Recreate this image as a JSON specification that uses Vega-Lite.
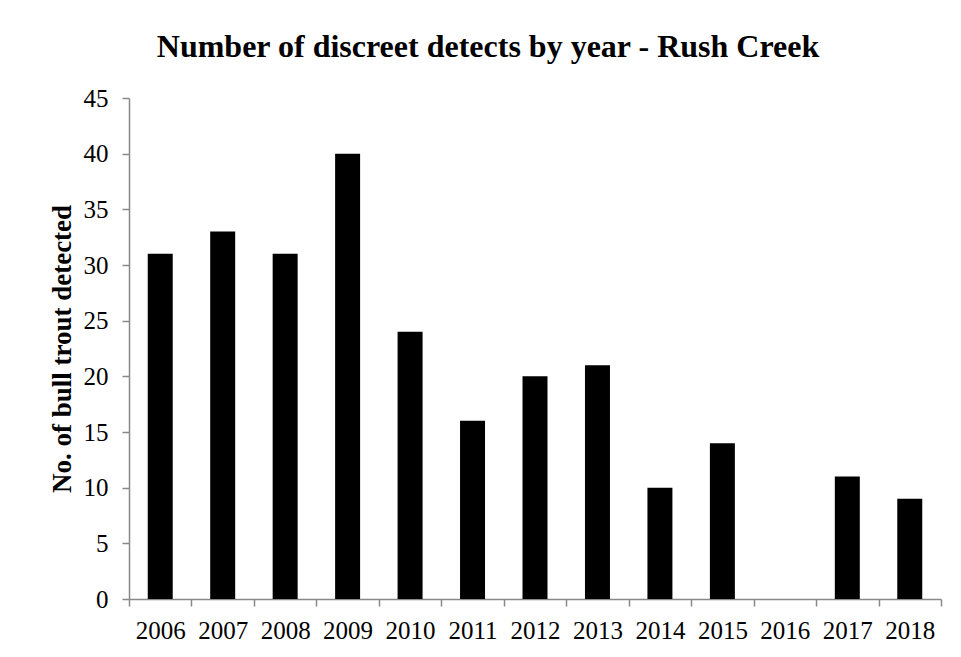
{
  "$schema": "https://vega.github.io/schema/vega-lite/v6.json",
  "width": 812,
  "height": 501,
  "autosize": {"type": "none"},
  "padding": {"left": 129, "top": 98, "right": 20, "bottom": 58},
  "background": "white",
  "title": {
    "text": "Number of discreet detects by year - Rush Creek",
    "font": "Liberation Serif",
    "fontSize": 32,
    "fontWeight": "bold",
    "color": "black",
    "anchor": "middle",
    "frame": "group",
    "dx": -47,
    "offset": 22
  },
  "data": {
    "values": [
      {"year": "2006", "count": 31},
      {"year": "2007", "count": 33},
      {"year": "2008", "count": 31},
      {"year": "2009", "count": 40},
      {"year": "2010", "count": 24},
      {"year": "2011", "count": 16},
      {"year": "2012", "count": 20},
      {"year": "2013", "count": 21},
      {"year": "2014", "count": 10},
      {"year": "2015", "count": 14},
      {"year": "2016", "count": 0},
      {"year": "2017", "count": 11},
      {"year": "2018", "count": 9}
    ]
  },
  "mark": {"type": "bar", "color": "black", "width": {"band": 0.4}},
  "encoding": {
    "x": {
      "field": "year",
      "type": "ordinal",
      "scale": {"paddingInner": 0, "paddingOuter": 0},
      "axis": {
        "title": null,
        "labelAngle": 0,
        "labelFont": "Liberation Serif",
        "labelFontSize": 25,
        "labelColor": "black",
        "labelPadding": 12,
        "tickBand": "extent",
        "tickSize": 7,
        "tickColor": "#888888",
        "tickWidth": 1.5,
        "domainColor": "#888888",
        "domainWidth": 1.5
      }
    },
    "y": {
      "field": "count",
      "type": "quantitative",
      "scale": {"domain": [0, 45], "nice": false},
      "axis": {
        "title": "No. of bull trout detected",
        "titleFont": "Liberation Serif",
        "titleFontSize": 27,
        "titleFontWeight": "bold",
        "titleColor": "black",
        "titlePadding": 7,
        "values": [0, 5, 10, 15, 20, 25, 30, 35, 40, 45],
        "grid": false,
        "labelFont": "Liberation Serif",
        "labelFontSize": 25,
        "labelColor": "black",
        "labelPadding": 14,
        "tickSize": 7,
        "tickColor": "#888888",
        "tickWidth": 1.5,
        "domainColor": "#888888",
        "domainWidth": 1.5
      }
    }
  },
  "config": {"view": {"stroke": null}}
}
